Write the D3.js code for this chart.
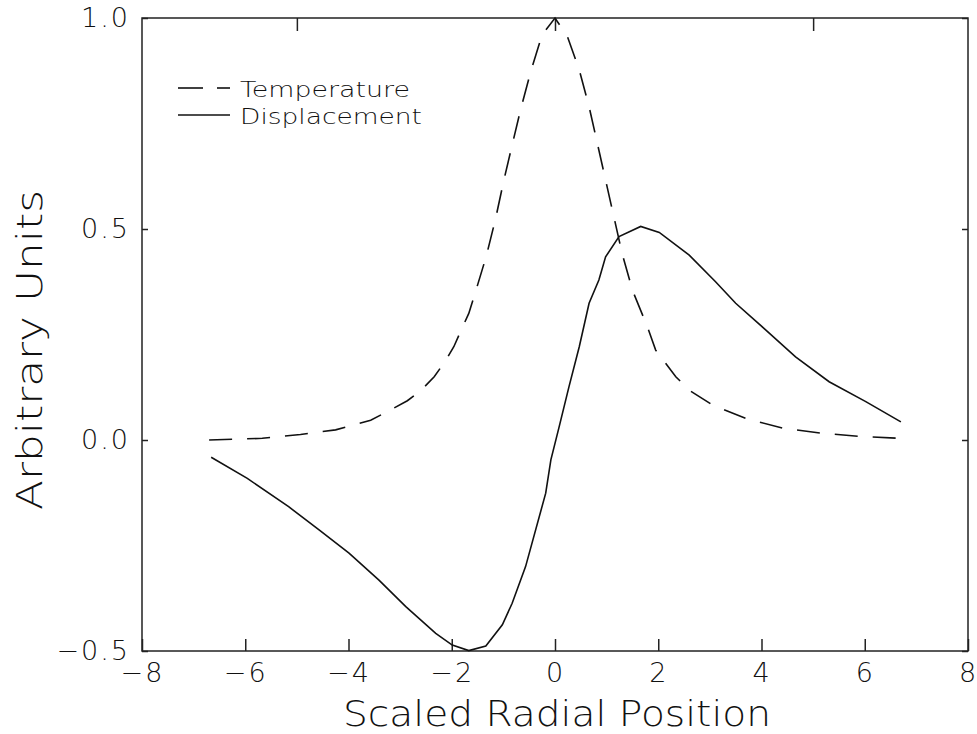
<!DOCTYPE html>
<html>
<head>
<meta charset="utf-8">
<script src="https://cdn.jsdelivr.net/npm/d3@7"></script>
<style>
  html, body { margin: 0; padding: 0; background: #fff; }
  svg text { font-family: "DejaVu Sans", "Liberation Sans", sans-serif; font-weight: 200; fill: #111; }
</style>
</head>
<body>
<svg id="chart" width="977" height="734"></svg>
<script>
// values
const tempX = [-6.70, -5.67, -4.93, -4.25, -3.57, -3.25, -2.86, -2.60, -2.34, -2.13, -1.96, -1.80, -1.67, -1.54,
  -1.33, -1.15, -0.99, -0.83, -0.66, -0.47, -0.25, 0.00, 0.24, 0.47, 0.66, 0.82, 0.98, 1.14, 1.30, 1.50,
  1.79, 1.95, 2.34, 2.60, 3.05, 3.70, 4.41, 5.18, 5.96, 6.70];
const tempY = [0.000, 0.004, 0.013, 0.024, 0.047, 0.067, 0.093, 0.117, 0.150, 0.186, 0.221, 0.265, 0.300, 0.351,
  0.436, 0.525, 0.616, 0.699, 0.786, 0.873, 0.960, 1.000, 0.956, 0.877, 0.790, 0.703, 0.616, 0.529, 0.442, 0.355,
  0.268, 0.213, 0.150, 0.118, 0.083, 0.051, 0.028, 0.016, 0.008, 0.004];

const dispX = [-6.66, -5.96, -5.16, -4.57, -3.99, -3.41, -2.89, -2.31, -1.99, -1.67, -1.34, -1.02, -0.83, -0.57,
  -0.18, -0.08, 0.08, 0.27, 0.47, 0.66, 0.85, 0.98, 1.24, 1.66, 2.02, 2.60, 3.11, 3.50, 4.08, 4.66, 5.31, 6.02, 6.70];
const dispY = [-0.041, -0.091, -0.158, -0.213, -0.268, -0.332, -0.395, -0.458, -0.486, -0.499, -0.488, -0.438, -0.387, -0.300,
  -0.126, -0.047, 0.031, 0.126, 0.221, 0.324, 0.379, 0.434, 0.482, 0.506, 0.492, 0.438, 0.375, 0.324, 0.261, 0.197, 0.138, 0.091, 0.043];

const xTicks = [-8, -6, -4, -2, 0, 2, 4, 6, 8];
const xTopTicks = [-5, 0, 5];
const yTicks = [-0.5, 0.0, 0.5, 1.0];
const seriesNames = ["Temperature", "Displacement"];

const svg = d3.select("#chart");
const mLeft = 142, mRight = 968, mTop = 18, mBottom = 651;

const x = d3.scaleLinear().domain([-8, 8]).range([mLeft, mRight]);
const y = d3.scaleLinear().domain([-0.5, 1.0]).range([mBottom, mTop]);

// bottom axis, ticks pointing in
const gx = svg.append("g")
    .attr("transform", `translate(0,${mBottom})`)
    .call(d3.axisBottom(x).tickValues(xTicks).tickSize(-12).tickSizeOuter(0).tickPadding(12)
        .tickFormat(d3.format("d")));
gx.select(".domain").remove();
gx.selectAll("line").attr("stroke", "#222").attr("stroke-width", 1.5);
gx.selectAll("text").attr("font-size", 27).attr("letter-spacing", 2).attr("fill", "#111");

// top ticks only
const gxt = svg.append("g")
    .attr("transform", `translate(0,${mTop})`)
    .call(d3.axisTop(x).tickValues(xTopTicks).tickSize(-13).tickSizeOuter(0).tickFormat(""));
gxt.select(".domain").remove();
gxt.selectAll("line").attr("stroke", "#222").attr("stroke-width", 1.5);

// left axis
const gy = svg.append("g")
    .attr("transform", `translate(${mLeft},0)`)
    .call(d3.axisLeft(y).tickValues(yTicks).tickSize(-6).tickSizeOuter(0).tickPadding(12)
        .tickFormat(d3.format(".1f")));
gy.select(".domain").remove();
gy.selectAll("line").attr("stroke", "#222").attr("stroke-width", 1.5);
gy.selectAll("text").attr("font-size", 27).attr("letter-spacing", 2).attr("fill", "#111");

// right ticks
const gyr = svg.append("g")
    .attr("transform", `translate(${mRight},0)`)
    .call(d3.axisRight(y).tickValues(yTicks).tickSize(-6).tickSizeOuter(0).tickFormat(""));
gyr.select(".domain").remove();
gyr.selectAll("line").attr("stroke", "#222").attr("stroke-width", 1.5);

// frame
svg.append("rect")
    .attr("x", mLeft).attr("y", mTop)
    .attr("width", mRight - mLeft).attr("height", mBottom - mTop)
    .attr("fill", "none").attr("stroke", "#222").attr("stroke-width", 1.5);

const line = d3.line().x(d => x(d[0])).y(d => y(d[1]));

svg.append("path")
    .datum(d3.zip(tempX, tempY))
    .attr("d", line)
    .attr("fill", "none").attr("stroke", "#111").attr("stroke-width", 1.6)
    .attr("stroke-dasharray", "23,15");

svg.append("path")
    .datum(d3.zip(dispX, dispY))
    .attr("d", line)
    .attr("fill", "none").attr("stroke", "#111").attr("stroke-width", 1.6);

// legend
const lg = svg.append("g");
lg.append("line").attr("x1", 178).attr("x2", 203).attr("y1", 88).attr("y2", 88)
    .attr("stroke", "#111").attr("stroke-width", 1.6);
lg.append("line").attr("x1", 217).attr("x2", 230).attr("y1", 88).attr("y2", 88)
    .attr("stroke", "#111").attr("stroke-width", 1.6);
lg.append("line").attr("x1", 178).attr("x2", 230).attr("y1", 115).attr("y2", 115)
    .attr("stroke", "#111").attr("stroke-width", 1.6);
lg.append("text").attr("x", 240).attr("y", 97).attr("font-size", 22)
    .attr("textLength", 170).attr("lengthAdjust", "spacingAndGlyphs").text(seriesNames[0]);
lg.append("text").attr("x", 240).attr("y", 124).attr("font-size", 22)
    .attr("textLength", 182).attr("lengthAdjust", "spacingAndGlyphs").text(seriesNames[1]);

// axis titles
svg.append("text")
    .attr("x", 343).attr("y", 726).attr("font-size", 36)
    .attr("textLength", 428).attr("lengthAdjust", "spacingAndGlyphs")
    .text("Scaled Radial Position");

svg.append("text")
    .attr("transform", "translate(42,510) rotate(-90)")
    .attr("font-size", 36)
    .attr("textLength", 320).attr("lengthAdjust", "spacingAndGlyphs")
    .text("Arbitrary Units");
</script>
</body>
</html>
